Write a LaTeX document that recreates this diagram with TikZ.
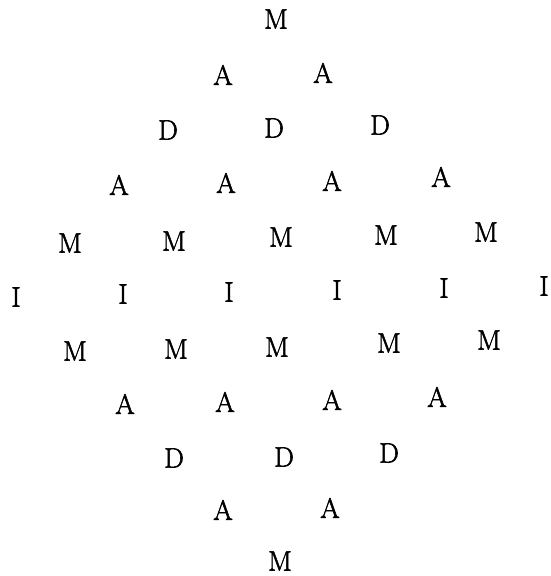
\documentclass[tikz,border=0pt]{standalone}
\usepackage{fontspec}
\newfontfamily\heavyrm{Latin Modern Roman}[FakeBold=2]
\begin{document}
\begin{tikzpicture}[x=1pt,y=-1pt,letter/.style={inner sep=0pt,font=\heavyrm\fontsize{28}{30}\selectfont}]
\useasboundingbox (0,0) rectangle (550,576);
% row by row, top to bottom
\node[letter] (m1) at (276,19) {M};
\foreach \x/\y [count=\i] in {223/75,323/73}
  \node[letter] (a2\i) at (\x,\y) {A};
\foreach \x/\y [count=\i] in {168/130,274/128,380/125}
  \node[letter] (d3\i) at (\x,\y) {D};
\foreach \x/\y [count=\i] in {119/185,226/183,332/181,441/177}
  \node[letter] (a4\i) at (\x,\y) {A};
\foreach \x/\y [count=\i] in {70/243,174/241,281/237,386/235,486/232}
  \node[letter] (m5\i) at (\x,\y) {M};
\foreach \x/\y [count=\i] in {16/297,123/294,229/292,337/290,444/288,544/286}
  \node[letter] (i6\i) at (\x,\y) {I};
\foreach \x/\y [count=\i] in {75/351,176/349,277/347,389/343,489/340}
  \node[letter] (m7\i) at (\x,\y) {M};
\foreach \x/\y [count=\i] in {125/404,225/402,332/400,437/397}
  \node[letter] (a8\i) at (\x,\y) {A};
\foreach \x/\y [count=\i] in {174/458,284/457,389/453}
  \node[letter] (d9\i) at (\x,\y) {D};
\foreach \x/\y [count=\i] in {223/510,330/508}
  \node[letter] (a10\i) at (\x,\y) {A};
\node[letter] (m11) at (280,561) {M};
\end{tikzpicture}
\end{document}
